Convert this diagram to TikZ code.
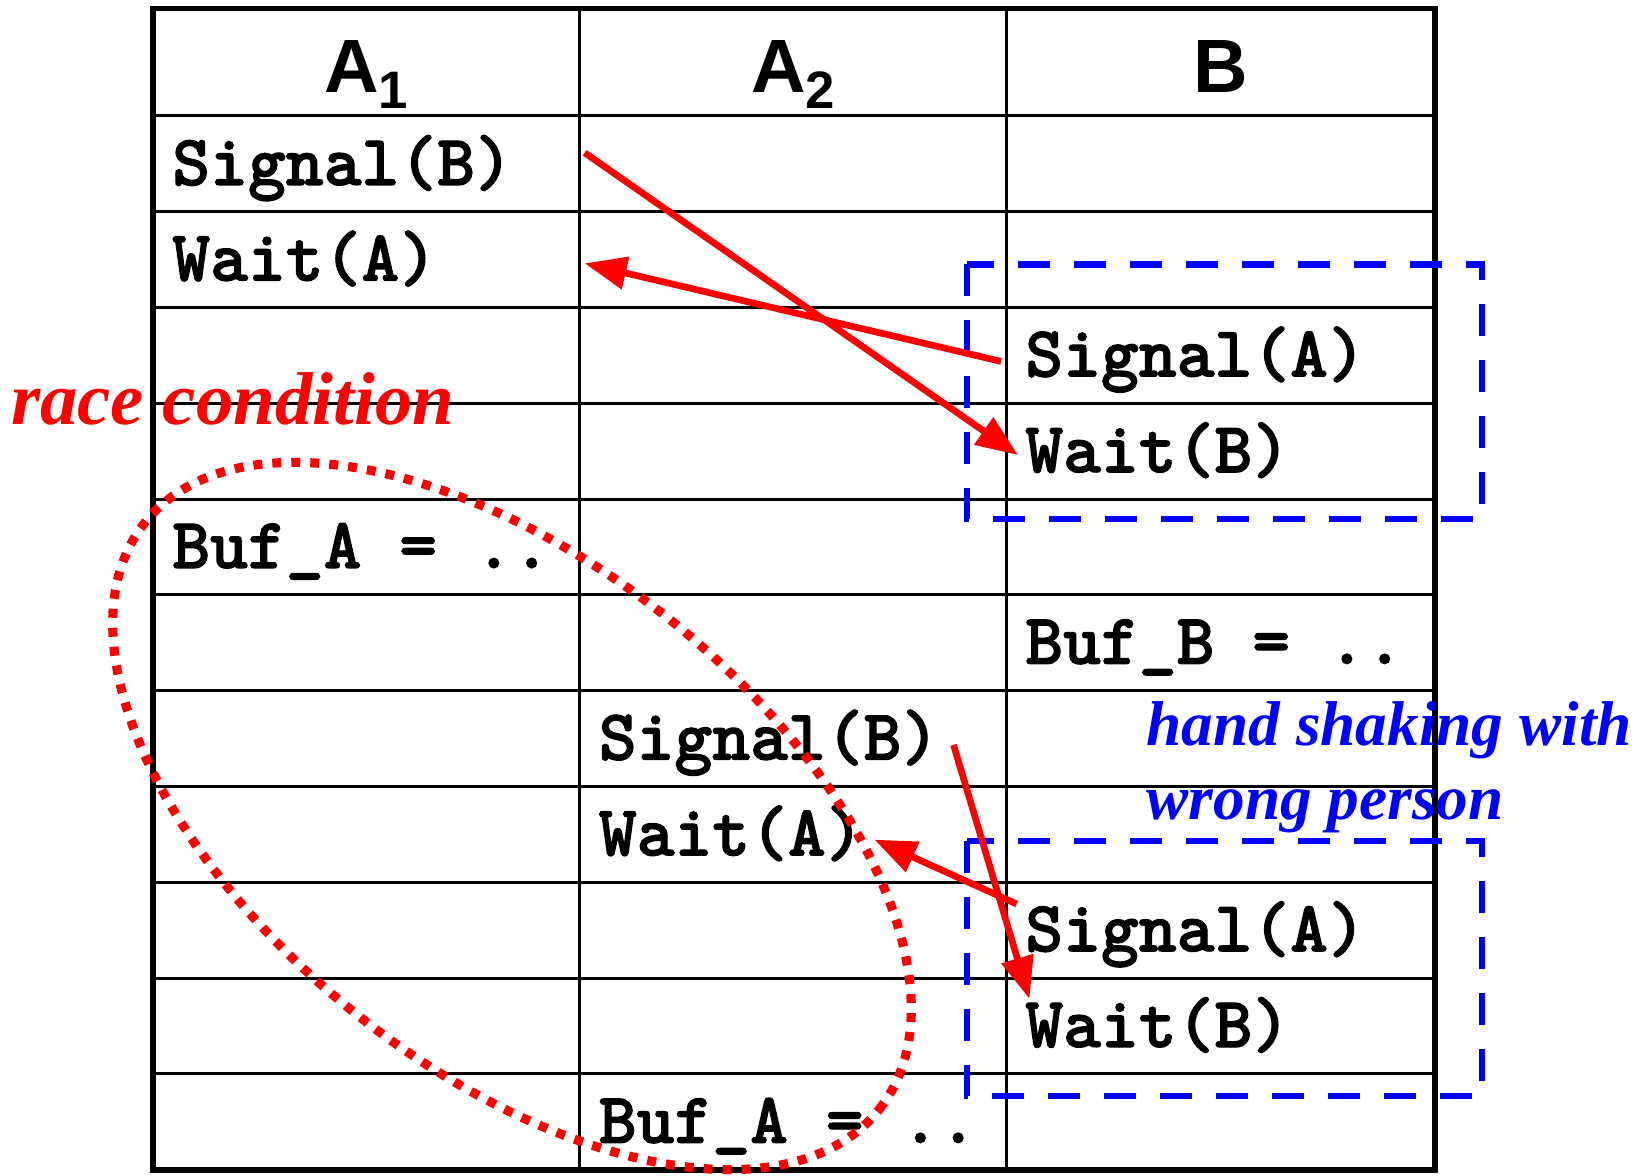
\documentclass[tikz,border=0pt]{standalone}
\usepackage{fontspec}
\usetikzlibrary{arrows.meta}
\newfontfamily\headfont{Liberation Sans}
\newfontfamily\notefont{Liberation Serif}
\newfontfamily\codefont{lmmonolt10-bold.otf}[FakeBold=1.6]

\begin{document}
\begin{tikzpicture}[
    gridline/.style={line width=0.85pt},
    frame/.style={line width=1.6pt},
    cmd/.style={anchor=base west, inner xsep=5.3pt, font=\codefont\fontsize{20.5}{23}\selectfont},
    head/.style={anchor=base, font=\headfont\bfseries\fontsize{21.5}{24}\selectfont},
    note/.style={anchor=base west, inner sep=0pt, align=left},
    link/.style={-{Triangle[length=0.42cm, width=0.32cm]}, red, line width=1.9pt},
    pair/.style={blue, line width=1.8pt, dash pattern=on 0.32cm off 0.24cm},
    race/.style={red, line width=2.6pt, dash pattern=on 0.09cm off 0.1cm}
]
\useasboundingbox (0,0) rectangle (16.52,11.75);

% table
\foreach \k in {0,...,10}
    \draw[gridline] (1.53,10.591-0.958*\k) -- (14.35,10.591-0.958*\k);
\draw[gridline] (5.795,0.053) -- (5.795,11.666);
\draw[gridline] (10.06,0.053) -- (10.06,11.666);
\draw[frame] (1.53,0.053) rectangle (14.35,11.666);

% column heads
\node[head] (hA1) at (3.66,10.823) {A\raisebox{-4.5pt}{\fontsize{15}{15}\selectfont 1}};
\node[head] (hA2) at (7.93,10.823) {A\raisebox{-4.5pt}{\fontsize{15}{15}\selectfont 2}};
\node[head] (hB) at (12.205,10.823) {B};

% steps
\node[cmd] (sigB1) at (1.53,9.90) {Signal(B)};
\node[cmd] (waitA1) at (1.53,8.944) {Wait(A)};
\node[cmd] (sigA1) at (10.06,7.986) {Signal(A)};
\node[cmd] (waitB1) at (10.06,7.028) {Wait(B)};
\node[cmd] (bufA1) at (1.53,6.07) {Buf\_A = ..};
\node[cmd] (bufB) at (10.06,5.112) {Buf\_B = ..};
\node[cmd] (sigB2) at (5.795,4.154) {Signal(B)};
\node[cmd] (waitA2) at (5.795,3.196) {Wait(A)};
\node[cmd] (sigA2) at (10.06,2.238) {Signal(A)};
\node[cmd] (waitB2) at (10.06,1.28) {Wait(B)};
\node[cmd] (bufA2) at (5.795,0.322) {Buf\_A = ..};

% hand shaking boxes
\draw[pair] (9.67,9.105) rectangle (14.82,6.56);
\draw[pair] (9.67,3.34) rectangle (14.82,0.793);

% race region
\draw[race, rotate around={-38.7:(5.12,3.59)}] (5.12,3.59) ellipse [x radius=4.70, y radius=2.52];

% signals
\coordinate (s1) at (5.847,10.222);
\coordinate (t1) at (10.18,7.20);
\coordinate (s2) at (10.01,8.136);
\coordinate (t2) at (5.847,9.116);
\coordinate (s3) at (9.535,4.301);
\coordinate (t3) at (10.294,1.762);
\coordinate (s4) at (10.167,2.71);
\coordinate (t4) at (8.745,3.353);
\draw[link] (s1) -- (t1);
\draw[link] (s2) -- (t2);
\draw[link] (s3) -- (t3);
\draw[link] (s4) -- (t4);

\node[note, red, font=\notefont\bfseries\itshape\fontsize{21.3}{24}\selectfont] (raceLabel) at (0.105,7.50) {race condition};
\node[note, blue, font=\notefont\bfseries\itshape\fontsize{18}{21.3}\selectfont] (shakeLabel) at (11.46,3.55) {hand shaking with\\wrong person};
\end{tikzpicture}
\end{document}
